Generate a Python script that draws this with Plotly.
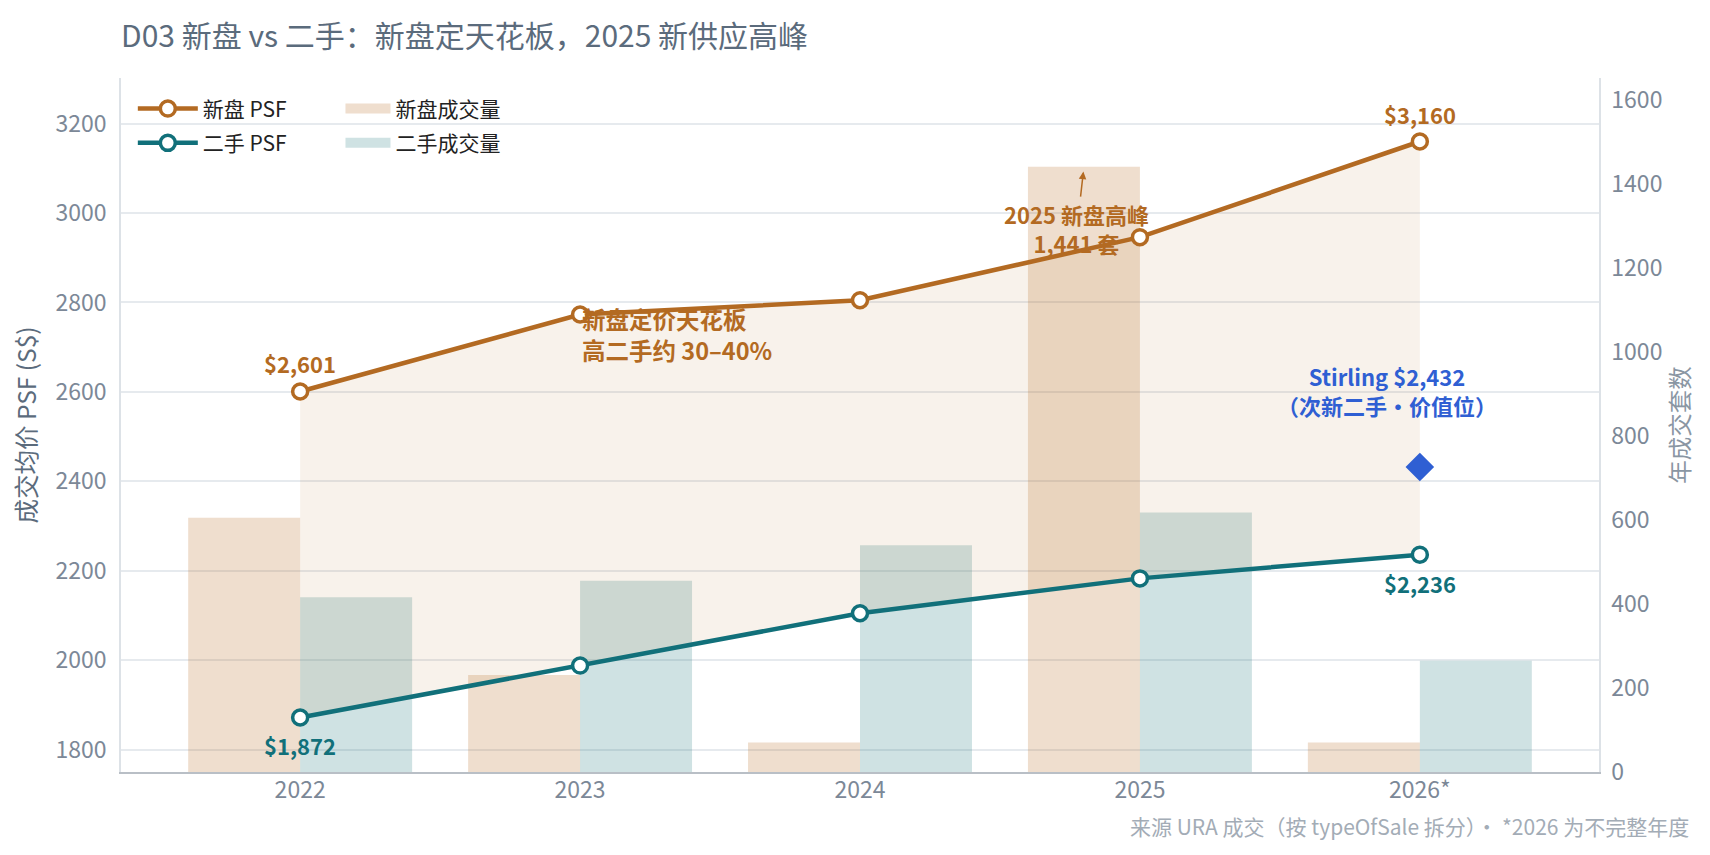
import plotly.graph_objects as go

years = ["2022", "2023", "2024", "2025", "2026*"]
new_psf = [2601, 2773, 2805, 2946, 3160]
resale_psf = [1872, 1988, 2105, 2183, 2236]
new_vol = [605, 231, 70, 1441, 70]
resale_vol = [416, 455, 540, 618, 265]
stirling_psf = 2432

FONT = "Noto Sans CJK SC"
BROWN = "#b36a22"
TEAL = "#11707a"
BLUE = "#2f5fd3"
NEW_BAR = "rgba(181,107,32,0.22)"
RES_BAR = "rgba(15,110,117,0.2)"

fig = go.Figure()

# bars on primary y (right side)
fig.add_trace(go.Bar(x=years, y=new_vol, name="新盘成交量", marker=dict(color=NEW_BAR, line=dict(width=0)),
                     showlegend=False, yaxis="y"))
fig.add_trace(go.Bar(x=years, y=resale_vol, name="二手成交量", marker=dict(color=RES_BAR, line=dict(width=0)),
                     showlegend=False, yaxis="y"))

# fill between resale and new PSF lines
fig.add_trace(go.Scatter(x=years, y=resale_psf, mode="lines", line=dict(width=0, color="rgba(0,0,0,0)"),
                         showlegend=False, yaxis="y2", hoverinfo="skip"))
fig.add_trace(go.Scatter(x=years, y=new_psf, mode="lines", line=dict(width=0, color="rgba(0,0,0,0)"),
                         fill="tonexty", fillcolor="rgba(181,107,32,0.09)",
                         showlegend=False, yaxis="y2", hoverinfo="skip"))
fig.add_trace(go.Scatter(x=years, y=new_psf, name="新盘 PSF", mode="lines+markers",
                         line=dict(color=BROWN, width=4.5),
                         marker=dict(size=15, color="white", line=dict(color=BROWN, width=3.5)),
                         yaxis="y2", legend="legend", legendgroup="a"))
fig.add_trace(go.Scatter(x=years, y=resale_psf, name="二手 PSF", mode="lines+markers",
                         line=dict(color=TEAL, width=4.5),
                         marker=dict(size=15, color="white", line=dict(color=TEAL, width=3.5)),
                         yaxis="y2", legend="legend", legendgroup="b"))
fig.add_trace(go.Scatter(x=[years[4]], y=[stirling_psf], mode="markers", showlegend=False,
                         marker=dict(symbol="diamond", size=22, color=BLUE), yaxis="y2"))

# legend entries for the bar series
fig.add_trace(go.Scatter(x=[None], y=[None], mode="lines", name="新盘成交量", line=dict(color=NEW_BAR, width=16),
                         legend="legend2", legendgroup="c", yaxis="y"))
fig.add_trace(go.Scatter(x=[None], y=[None], mode="lines", name="二手成交量", line=dict(color=RES_BAR, width=16),
                         legend="legend2", legendgroup="d", yaxis="y"))

ann = []
ann.append(dict(x=0, y=new_psf[0], xref="x", yref="y2", text="<b>$2,601</b>", showarrow=False, yshift=28,
                font=dict(color=BROWN, size=22)))
ann.append(dict(x=4, y=new_psf[4], xref="x", yref="y2", text="<b>$3,160</b>", showarrow=False, yshift=28,
                font=dict(color=BROWN, size=22)))
ann.append(dict(x=0, y=resale_psf[0], xref="x", yref="y2", text="<b>$1,872</b>", showarrow=False, yshift=-28,
                font=dict(color=TEAL, size=22)))
ann.append(dict(x=4, y=resale_psf[4], xref="x", yref="y2", text="<b>$2,236</b>", showarrow=False, yshift=-28,
                font=dict(color=TEAL, size=22)))
ann.append(dict(x=1, y=2729, xref="x", yref="y2", text="<b>新盘定价天花板<br>高二手约 30–40%</b>", showarrow=False,
                xanchor="left", align="left", font=dict(color=BROWN, size=23.5)))
ann.append(dict(x=2.8, y=new_vol[3], xref="x", yref="y", text="<b>2025 新盘高峰<br>1,441 套</b>", showarrow=True,
                ax=-7, ay=62, arrowhead=2, arrowsize=1, arrowwidth=1.5, arrowcolor=BROWN, standoff=5,
                font=dict(color=BROWN, size=22)))
ann.append(dict(x=4, y=2603, xref="x", yref="y2", text="<b>Stirling $2,432<br>（次新二手·价值位）</b>", showarrow=False,
                xshift=-33, font=dict(color=BLUE, size=22)))
ann.append(dict(x=1.0622, y=-0.0772, xref="paper", yref="paper", text="来源 URA 成交（按 typeOfSale 拆分）· *2026 为不完整年度",
                showarrow=False, xanchor="right", yanchor="middle", font=dict(color="#a3acb6", size=21)))

fig.update_layout(
    width=1710, height=855,
    margin=dict(l=121, r=111, t=78, b=83),
    paper_bgcolor="white", plot_bgcolor="white",
    font=dict(family=FONT, color="#5b6b7c"),
    title=dict(text="D03 新盘 vs 二手：新盘定天花板，2025 新供应高峰", x=121/1710, xanchor="left",
               y=1-36/855, yanchor="middle", font=dict(size=30, color="#5b6b7c", family=FONT)),
    barmode="group", bargap=0.2, bargroupgap=0,
    xaxis=dict(type="category", range=[-0.64, 4.64], showgrid=False, showline=True, linecolor="#b9bfc6", linewidth=2,
               tickfont=dict(size=23, color="#7c8897"), ticks="", ticklabelstandoff=-4),
    yaxis=dict(side="right", range=[0, 1652], dtick=200, showgrid=False, zeroline=False, showline=True,
               linecolor="#dde2e7", linewidth=1.5, tickfont=dict(size=23, color="#7c8897"),
               ticks="outside", ticklen=6, tickcolor="rgba(0,0,0,0)",
               title=dict(text="年成交套数", font=dict(size=23.5, color="#8a96a3"), standoff=6)),
    yaxis2=dict(side="left", overlaying="y", range=[1750, 3302], dtick=200, showgrid=True, gridcolor="#e6eaee",
                gridwidth=1.5, zeroline=False, showline=True, linecolor="#dde2e7", linewidth=1.5,
                tickfont=dict(size=23, color="#7c8897"), ticks="outside", ticklen=8, tickcolor="rgba(0,0,0,0)",
                title=dict(text="成交均价 PSF (S$)", font=dict(size=24.5, color="#5b6b7c"), standoff=12)),
    legend=dict(x=0.008, y=0.985, xanchor="left", yanchor="top", bgcolor="rgba(0,0,0,0)",
                font=dict(size=21, color="#222"), tracegroupgap=4, itemwidth=60),
    legend2=dict(x=0.1485, y=0.985, xanchor="left", yanchor="top", bgcolor="rgba(0,0,0,0)",
                 font=dict(size=21, color="#222"), tracegroupgap=4, itemwidth=45),
    annotations=ann,
    showlegend=True,
)

fig.write_html("out.html")
